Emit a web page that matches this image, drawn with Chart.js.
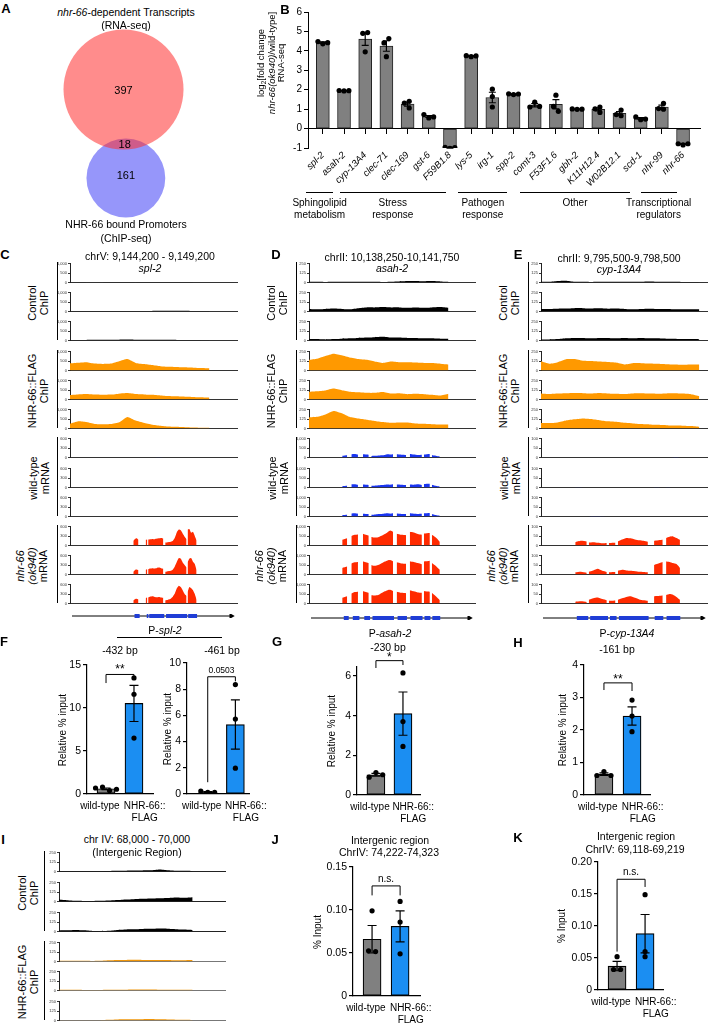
<!DOCTYPE html>
<html>
<head>
<meta charset="utf-8">
<title>NHR-66 figure</title>
<script src="https://cdn.jsdelivr.net/npm/chart.js@4.4.1/dist/chart.umd.min.js"></script>
<style>
  body { margin: 0; background: #fff; }
  #fig { position: relative; width: 708px; height: 1025px; overflow: hidden; background: #fff;
         font-family: "Liberation Sans", Arial, sans-serif; color: #000; }
  #fig canvas { position: absolute; }
  .t { position: absolute; white-space: nowrap; transform: translate(-50%, -50%); font-size: 10.5px; line-height: 12px; text-align: center; color: #000; }
  .v { transform: translate(-50%, -50%) rotate(-90deg); }
  .p { font-weight: bold; font-size: 13px; }
  .ln { position: absolute; background: #000; }
</style>
</head>
<body>
<div id="fig"></div>
<script>
// ---------- A: Venn ----------
const vennCounts = [397, 18, 161]; // RNA-seq only, both, ChIP-seq only

// ---------- B: RNA-seq fold change ----------
const genes = ['spl-2','asah-2','cyp-13A4','clec-71','clec-169','gst-6','F59B1.8','lys-5','irg-1','spp-2','comt-3','F53F1.6','gbh-2','K11H12.4','W02B12.1','scd-1','nhr-99','nhr-66'];
const bMean = [4.42, 1.95, 4.6, 4.25, 1.26, 0.62, -0.99, 3.73, 1.6, 1.77, 1.2, 1.25, 1.0, 0.99, 0.78, 0.52, 1.11, -0.8];
const bSem  = [0.04, 0.01, 0.32, 0.27, 0.1, 0.05, 0.02, 0.02, 0.27, 0.02, 0.08, 0.24, 0.01, 0.08, 0.09, 0.04, 0.1, 0.02];
const bRep1 = [4.36, 1.94, 4.94, 4.63, 1.4, 0.55, -1.02, 3.7, 2.03, 1.75, 1.36, 0.89, 0.99, 1.11, 0.95, 0.46, 1.0, -0.84];
const bRep2 = [4.48, 1.96, 3.95, 3.7, 1.06, 0.72, -0.97, 3.75, 1.11, 1.79, 1.11, 1.72, 1.01, 0.83, 0.72, 0.6, 1.3, -0.78];
const bRep3 = [4.42, 1.95, 4.9, 4.41, 1.31, 0.6, -0.98, 3.74, 1.65, 1.78, 1.14, 1.14, 1.0, 1.02, 0.66, 0.49, 1.03, -0.78];
const bTicks = [-1, 0, 1, 2, 3, 4, 5, 6];
const bGroups = [['Sphingolipid','metabolism'], ['Stress','response'], ['Pathogen','response'], ['Other'], ['Transcriptional','regulators']];
const bGroupSpans = [[-0.8, 0.5], [0.8, 5.8], [6.4, 8.7], [9.3, 14.5], [15, 16.7]];

// ---------- C: spl-2 tracks ----------
const cChipEnd = 83.5;
const cCtrl1 = [10,12,10,8,10,12,15,12,10,14,12,15,20,18,14,10,8,6];
const cCtrl2 = [25,30,25,30,25,30,30,35,30,30,35,40,45,50,45,35,30,25];
const cCtrl3 = [20,25,35,40,45,40,50,55,45,40,45,50,40,35,30,25,20,15];
const cNhr1 = [380,410,440,370,350,370,490,600,400,340,290,230,200,190,170,150,135,120];
const cNhr2 = [240,270,290,260,250,260,310,340,290,270,250,220,190,170,150,140,120,100];
const cNhr3 = [250,380,340,240,230,240,330,610,420,300,200,150,110,90,70,60,50,40];
const cExons = [[37.9,41],[45.3,46.3],[46.8,55.9],[57,69.8],[70.4,75.8]];
const cWt1 = [[0,0],[0,0],[0,0,0,10,12,6],[0,0,0],[0,0]];
const cWt2 = [[0,0],[0,0],[0,0,0,0,8,12],[4,0,0],[0,0]];
const cWt3 = [[0,0],[0,0],[0,0,0,0,0,0],[0,0,4,6,10,8],[6,0]];
const cMut1 = [[150,210,230,180],[180,190],[190,200,210,200,220,230,240,220],[100,100,110,120,150,250,420,500,480,380,280,200],[500,520,400,430,300,160]];
const cMut2 = [[90,160,140],[150,170],[170,190,200,190,210,220,200,180],[90,100,110,120,160,260,400,520,500,380,300,220],[380,500,520,400,330,140]];
const cMut3 = [[100,150,130],[170,190],[190,220,230,210,200,210,190,180],[100,110,130,160,220,320,480,560,520,420,300,240],[360,520,480,420,300,120]];

// ---------- D: asah-2 tracks ----------
const dChipEnd = 84;
const dCtrl1 = [10,10,8,10,12,10,10,12,10,8,12,15,20,22,18,20,15,10];
const dCtrl2 = [35,30,35,40,35,30,45,55,55,60,55,55,50,55,50,55,60,50];
const dCtrl3 = [20,20,15,20,25,30,35,40,45,50,40,40,35,35,30,30,25,25];
const dNhr1 = [140,155,190,220,200,170,150,140,120,100,118,108,108,105,100,98,90,80];
const dNhr2 = [103,110,120,143,123,103,95,88,88,99,79,82,71,75,71,63,52,75];
const dNhr3 = [145,153,185,230,200,150,130,115,100,85,75,78,80,66,62,56,52,55];
const dExons = [[20,23],[25.5,29.5],[32.5,36],[37.5,50.6],[52.8,58.5],[60.7,68],[69.2,72.8],[74,78.8]];
const dWt1 = [[90,120],[180,190,160],[170,150],[80,90,100,110,120,140,170,160,180],[170,150,140],[190,160,130,150],[160,190],[140,100,60]];
const dWt2 = [[70,90],[170,180,150],[160,140],[90,100,110,120,130,150,160,150,170],[160,150,130],[160,150,170,140],[190,200],[150,90,50]];
const dWt3 = [[80,100],[160,170,150],[150,130],[90,100,120,130,140,160,170,150,170],[160,140,130],[170,150,140,150],[170,190],[140,80,40]];
const dMut1 = [[300,380],[500,560,580],[620,520],[450,420,420,460,520,600,700,780,720],[620,560,540],[720,680,600,560],[630,660],[560,420,200]];
const dMut2 = [[350,420],[580,640,660],[680,600],[500,460,470,520,600,680,740,760,700],[640,580,560],[700,660,600,540],[680,720],[600,450,250]];
const dMut3 = [[300,380],[520,600,620],[640,560],[430,420,440,480,560,640,700,720,660],[620,560,540],[700,640,580,560],[660,620],[560,380,180]];

// ---------- E: cyp-13A4 tracks ----------
const eChipEnd = 94.8;
const eCtrl1 = [10,12,22,25,12,10,8,10,10,12,10,10,12,15,12,10,10,8,8,6];
const eCtrl2 = [35,35,38,40,45,45,40,42,38,40,35,30,35,38,35,35,32,30,30,30];
const eCtrl3 = [15,15,20,30,35,35,30,35,35,30,35,30,35,30,30,25,25,20,20,18];
const eNhr1 = [121,90,110,148,150,128,125,118,112,105,80,97,97,92,88,82,78,75,78,80];
const eNhr2 = [80,72,78,82,85,84,80,86,80,75,72,80,82,78,76,80,82,78,70,45];
const eNhr3 = [73,72,81,105,121,133,125,110,95,88,75,68,60,55,50,45,40,38,34,25];
const eExons = [[20.5,27.4],[28.6,39.4],[40.6,44.6],[46,64],[67.7,72.9],[74.9,83.2]];
const eWt1 = [[0,0],[0,0],[0,0],[0,0],[0,0],[0,0,2,3,0]];
const eWt2 = [[2,1],[0,0],[0,0],[0,0],[2,1],[2,1,0]];
const eWt3 = [[0,0],[2,3,0],[0,0],[0,0],[0,0],[0,0]];
const eMut1 = [[18,25,22],[16,18,15,12,14],[14,15],[22,32,40,38,32,28,25,20],[25,30],[40,46,48,40,30]];
const eMut2 = [[12,15,10],[15,22,30,20,14],[12,13],[20,25,22,20,18,15,14,12],[50,65],[68,66,60,55,35]];
const eMut3 = [[10,12,8],[20,28,32,24,18],[14,16],[20,28,35,38,30,22,18,15],[38,42],[45,50,46,35,20]];

// ---------- I: intergenic tracks ----------
const iChipEnd = 80.5;
const iCtrl1 = [5,5,5,5,5,6,8,10,12,14,15,16,28,18,12,10,8];
const iCtrl2 = [28,18,10,8,8,10,14,20,28,32,36,40,44,48,55,50,58];
const iCtrl3 = [14,16,20,16,8,6,10,22,28,30,34,36,40,38,32,26,20];
const iNhr1 = [12,12,12,10,8,10,16,20,22,24,22,20,20,22,18,18,20];
const iNhr2 = [10,10,10,8,8,8,10,12,12,14,15,14,12,12,12,12,12];
const iNhr3 = [4,4,4,4,4,6,10,14,16,16,18,20,16,14,12,10,8];

// ---------- F-K: ChIP-qPCR ----------
const qLabels = ['wild-type', ['NHR-66::', 'FLAG']];
const qLabelPos = [-0.22, 1.38];
const f432Wt = [0.4, 0.8, 0.55, 0.7], f432Nhr = [13.5, 11.6, 6.5], f432Mean = [0.61, 10.53], f432Sem = [0.09, 2.1];
const f461Wt = [0.12, 0.22, 0.12], f461Nhr = [8.35, 5.72, 1.97], f461Mean = [0.15, 5.3], f461Sem = [0.03, 1.88];
const gWt = [1.13, 0.9, 1.02], gNhr = [6.15, 3.7, 2.45], gMean = [1.02, 4.1], gSem = [0.07, 1.09];
const hWt = [0.72, 0.6, 0.6], hNhr = [2.92, 2.43, 1.95], hMean = [0.64, 2.43], hSem = [0.04, 0.28];
const jWt = [0.099, 0.0517, 0.0525], jNhr = [0.11, 0.086, 0.049], jMean = [0.066, 0.081], jSem = [0.016, 0.018];
const kWt = [0.052, 0.032, 0.032], kNhr = [0.149, 0.06, 0.052], kMean = [0.0374, 0.088], kSem = [0.0073, 0.03];

// ---------- setup ----------
Chart.defaults.font.family = '"Liberation Sans", Arial, sans-serif';
Chart.defaults.font.size = 10;
Chart.defaults.color = '#000';
Chart.defaults.animation = false;
Chart.defaults.responsive = false;
Chart.defaults.events = [];
Chart.defaults.plugins.legend.display = false;
Chart.defaults.plugins.tooltip.enabled = false;

const GRAY = '#808080', BLUE = '#1b8ef2';
const COL = { ctrl: '#000000', nhr: '#ff9900', wt: '#1a35f0', mut: '#ff2a00', exon: '#1f3dd6' };
const fig = document.getElementById('fig');

function addCanvas(x, y, w, h) {
  const c = document.createElement('canvas');
  c.width = w; c.height = h;
  c.style.left = x + 'px'; c.style.top = y + 'px';
  c.style.width = w + 'px'; c.style.height = h + 'px';
  fig.appendChild(c);
  return c;
}
function text(x, y, html, cls, style) {
  const d = document.createElement('div');
  d.className = 't ' + (cls || '');
  d.style.left = x + 'px'; d.style.top = y + 'px';
  d.innerHTML = html;
  if (style) d.style.cssText += style;
  fig.appendChild(d);
}
function rule(x, y, w, h) {
  const d = document.createElement('div');
  d.className = 'ln';
  d.style.left = x + 'px'; d.style.top = y + 'px';
  d.style.width = w + 'px'; d.style.height = h + 'px';
  fig.appendChild(d);
}

// spread replicate dots sideways when they would overlap
function swarmOffsets(vals, thresh, step) {
  const off = [];
  vals.forEach((v, i) => {
    for (const c of [0, -1, 1, -2, 2, -3, 3]) {
      if (!off.some((o, j) => o === c && Math.abs(vals[j] - v) < thresh)) { off[i] = c; break; }
    }
  });
  const seen = [];
  vals.forEach((v, i) => {
    if (seen[i]) return;
    const cl = [i]; seen[i] = true;
    for (let k = 0; k < cl.length; k++) {
      vals.forEach((w, j) => { if (!seen[j] && Math.abs(vals[cl[k]] - w) < thresh) { seen[j] = true; cl.push(j); } });
    }
    const m = cl.reduce((a, j) => a + off[j], 0) / cl.length;
    cl.forEach(j => { off[j] -= m; });
  });
  return off.map(o => o * step);
}

function errorBars(mean, sem, cap) {
  return {
    id: 'errorBars',
    afterDatasetDraw(chart, args) {
      if (args.index !== 0) return;
      const ctx = chart.ctx, y = chart.scales.y;
      ctx.save();
      ctx.strokeStyle = '#000'; ctx.lineWidth = 1.2;
      args.meta.data.forEach((bar, i) => {
        const hi = y.getPixelForValue(mean[i] + sem[i]);
        const lo = y.getPixelForValue(mean[i] - sem[i]);
        ctx.beginPath();
        ctx.moveTo(bar.x, hi); ctx.lineTo(bar.x, lo);
        ctx.moveTo(bar.x - cap, hi); ctx.lineTo(bar.x + cap, hi);
        ctx.moveTo(bar.x - cap, lo); ctx.lineTo(bar.x + cap, lo);
        ctx.stroke();
      });
      ctx.restore();
    }
  };
}

function bracketPlugin(b) {
  return {
    id: 'bracket',
    afterDraw(chart) {
      const ctx = chart.ctx, x = chart.scales.x, y = chart.scales.y;
      const x0 = x.getPixelForValue(0), x1 = x.getPixelForValue(1), yb = y.getPixelForValue(b.y);
      ctx.save();
      ctx.strokeStyle = '#000'; ctx.lineWidth = 1;
      ctx.beginPath();
      ctx.moveTo(x0, y.getPixelForValue(b.leftEnd)); ctx.lineTo(x0, yb);
      ctx.lineTo(x1, yb); ctx.lineTo(x1, y.getPixelForValue(b.rightEnd));
      ctx.stroke();
      ctx.restore();
    }
  };
}

// ---------- A ----------
(function () {
  const rRed = Math.sqrt(vennCounts[0] + vennCounts[1]);
  const rBlue = Math.sqrt(vennCounts[2] + vennCounts[1]);
  const red = { x: 0, y: 0, size: rRed };
  const blue = { x: 0.8, y: -(rRed + rBlue - 3.7), size: rBlue };
  const radius = ctx => {
    if (!ctx.raw) return 0;
    const sx = ctx.chart.scales.x;
    return sx.getPixelForValue(ctx.raw.size) - sx.getPixelForValue(0);
  };
  const cx = 0, cy = 20;
  const chart = new Chart(addCanvas(cx, cy, 250, 210), {
    type: 'scatter',
    data: { datasets: [
      { data: [red], backgroundColor: 'rgba(255,46,46,0.55)', borderWidth: 0, pointRadius: radius, pointHoverRadius: radius },
      { data: [blue], backgroundColor: 'rgb(150,150,250)', borderWidth: 0, pointRadius: radius, pointHoverRadius: radius }
    ] },
    options: {
      layout: { padding: 0 },
      clip: false,
      scales: {
        x: { display: false, min: -41.94, max: 42.95 },
        y: { display: false, min: -47.7, max: 23.6 }
      }
    }
  });
  const sx = chart.scales.x, sy = chart.scales.y;
  const at = (x, y, s) => text(cx + sx.getPixelForValue(x), cy + sy.getPixelForValue(y), s, '', 'font-size:11px');
  at(red.x, red.y, vennCounts[0]);
  at((red.x + blue.x) / 2, ((blue.y + rBlue) + (red.y - rRed)) / 2, vennCounts[1]);
  at(blue.x, blue.y + 1, vennCounts[2]);
})();
text(6, 9, 'A', 'p');
text(126, 12, '<i>nhr-66</i>-dependent Transcripts');
text(126, 25, '(RNA-seq)');
text(126, 224, 'NHR-66 bound Promoters');
text(126, 238, '(ChIP-seq)');

// ---------- B ----------
(function () {
  const bDots = [];
  genes.forEach((g, i) => {
    const vals = [bRep1[i], bRep2[i], bRep3[i]];
    const off = swarmOffsets(vals, 0.28, 0.23);
    vals.forEach((v, k) => bDots.push({ x: i + off[k], y: v }));
  });
  const left = 230, top = 0;
  const chart = new Chart(addCanvas(left, top, 478, 225), {
    type: 'scatter',
    data: { datasets: [
      { type: 'bar', data: genes.map((g, i) => ({ x: i, y: bMean[i] })), backgroundColor: GRAY, borderColor: '#222', borderWidth: 1, borderSkipped: false, barThickness: 13, order: 2 },
      { type: 'scatter', data: bDots, pointRadius: 2.6, backgroundColor: '#000', borderWidth: 0, order: 1 }
    ] },
    options: {
      layout: { padding: { top: 12, right: 8, bottom: 77, left: 0 } },
      scales: {
        x: { type: 'linear', axis: 'x', position: { y: 0 }, offset: false, min: -0.7, max: genes.length - 0.2,
             afterBuildTicks: s => { s.ticks = genes.map((g, i) => ({ value: i })); },
             ticks: { autoSkip: false, minRotation: 45, maxRotation: 45, padding: 16, font: { size: 9.5, style: 'italic' }, callback: v => genes[v] },
             grid: { drawOnChartArea: false, offset: false, tickLength: 5, color: '#000' }, border: { color: '#000', width: 1 } },
        y: { min: -1, max: 6, afterBuildTicks: s => { s.ticks = bTicks.map(v => ({ value: v })); },
             ticks: { autoSkip: false, padding: 2, font: { size: 10 } },
             grid: { drawOnChartArea: false, tickLength: 4, color: '#000' }, border: { color: '#000', width: 1 },
             afterFit: s => { s.width = 78; } }
      }
    },
    plugins: [errorBars(bMean, bSem, 3.5)]
  });
  const sx = chart.scales.x, base = top + chart.chartArea.bottom;
  bGroups.forEach((name, g) => {
    const x0 = left + sx.getPixelForValue(bGroupSpans[g][0]);
    const x1 = left + sx.getPixelForValue(bGroupSpans[g][1]);
    rule(x0, base + 44, x1 - x0, 1);
    name.forEach((line, k) => text((x0 + x1) / 2, base + 55 + k * 12, line, '', 'font-size:10px'));
  });
})();
text(285, 10, 'B', 'p');
text(271, 63, '<div>log<span style="font-size:6.5px;position:relative;top:2px">2</span>[fold change</div><div><i>nhr-66(ok940)</i>/wild-type]</div><div>RNA-seq</div>', 'v', 'font-size:9.5px;line-height:9.5px');

// ---------- genome browser tracks ----------
const TRACK_H = 21;
const trackBases = [284, 313, 342, 372, 401, 430, 459, 489, 518, 547, 576, 605];
const iBases = [873, 903, 933, 963, 992, 1022];

function chipPoints(vals, end) {
  return vals.map((y, i) => ({ x: end * i / (vals.length - 1), y }));
}
function covPoints(exons, cov) {
  const pts = [];
  exons.forEach(([s, e], j) => {
    const v = cov[j], n = v.length;
    v.forEach((y, k) => pts.push({ x: s + (e - s) * k / (n - 1), y }));
    pts.push({ x: e, y: null });
  });
  return pts;
}
function track(axisX, right, base, pts, color, ticks, baseColor) {
  const yW = 12, padT = 3, padB = 2;
  const c = addCanvas(axisX - yW, base - TRACK_H - padT, right - axisX + yW + 1, TRACK_H + padT + padB);
  return new Chart(c, {
    type: 'line',
    data: { datasets: [{ data: pts, borderWidth: 0, borderColor: color, backgroundColor: color, pointRadius: 0, fill: 'origin', tension: 0.15, spanGaps: false }] },
    options: {
      layout: { padding: { top: padT, bottom: padB, right: 1, left: 0 } },
      scales: {
        x: { type: 'linear', min: 0, max: 100, ticks: { display: false }, grid: { display: false },
             border: { color: baseColor || '#333', width: 1 }, afterFit: s => { s.height = 0; } },
        y: { min: 0, max: ticks[ticks.length - 1], afterBuildTicks: s => { s.ticks = ticks.map(v => ({ value: v })); },
             ticks: { font: { size: 4 }, padding: 1, color: '#333', autoSkip: false },
             grid: { drawOnChartArea: false, tickLength: 2, color: '#333' }, border: { color: '#222', width: 1 },
             afterFit: s => { s.width = yW; } }
      }
    }
  });
}
function geneModel(axisX, right, y, exons) {
  const h = 12;
  const c = addCanvas(axisX - 2, y - h / 2, right - axisX + 6, h);
  const exonPts = [];
  exons.forEach(([s, e]) => { exonPts.push({ x: s, y: 0 }, { x: e, y: 0 }, { x: e, y: null }); });
  new Chart(c, {
    type: 'line',
    data: { datasets: [
      { data: exonPts, borderColor: COL.exon, borderWidth: 7, borderCapStyle: 'butt', pointRadius: 0, spanGaps: false, order: 0 },
      { data: [{ x: 0, y: 0 }, { x: 96.5, y: 0 }], borderColor: '#000', borderWidth: 1, pointRadius: [0, 3.5],
        pointStyle: 'triangle', rotation: 90, pointBackgroundColor: '#000', pointBorderWidth: 0, order: 1 }
    ] },
    options: {
      layout: { padding: { left: 2, right: 4, top: 0, bottom: 0 } },
      scales: { x: { type: 'linear', min: 0, max: 100, display: false }, y: { min: -1, max: 1, display: false } }
    }
  });
}
function trackLabels(axisX, bases, groups, brOff) {
  groups.forEach(g => {
    const y0 = bases[g.i0] - TRACK_H - 1, y1 = bases[g.i1] - 2;
    rule(axisX - brOff, y0, 1.2, y1 - y0);
    text(axisX + (g.dx || -32), (bases[g.i0] - TRACK_H + bases[g.i1]) / 2, g.html, 'v', 'font-size:11px;line-height:11.5px');
  });
}
const stdGroups = [
  { html: 'Control<br>ChIP', i0: 0, i1: 2 },
  { html: 'NHR-66::FLAG<br>ChIP', i0: 3, i1: 5 },
  { html: 'wild-type<br>mRNA', i0: 6, i1: 8, dx: -31 },
  { html: '<i>nhr-66<br>(ok940)</i><br>mRNA', i0: 9, i1: 11, dx: -38 }
];

function genePanel(p) {
  const chip = [p.ctrl[0], p.ctrl[1], p.ctrl[2], p.nhr[0], p.nhr[1], p.nhr[2]];
  chip.forEach((vals, i) => track(p.axisX, p.right, trackBases[i], chipPoints(vals, p.chipEnd), i < 3 ? COL.ctrl : COL.nhr, p.chipTicks));
  p.wt.forEach((cov, i) => track(p.axisX, p.right, trackBases[6 + i], covPoints(p.exons, cov), COL.wt, p.wtTicks));
  p.mut.forEach((cov, i) => track(p.axisX, p.right, trackBases[9 + i], covPoints(p.exons, cov), COL.mut, p.mutTicks));
  geneModel(p.axisX, p.right, p.geneY, p.exons);
  trackLabels(p.axisX, trackBases, stdGroups, 13);
}

genePanel({ axisX: 70, right: 237, chipEnd: cChipEnd, ctrl: [cCtrl1, cCtrl2, cCtrl3], nhr: [cNhr1, cNhr2, cNhr3],
  chipTicks: [0, 500, 1000], exons: cExons, wt: [cWt1, cWt2, cWt3], mut: [cMut1, cMut2, cMut3],
  wtTicks: [0, 300, 600], mutTicks: [0, 300, 600], geneY: 616 });
genePanel({ axisX: 309, right: 475, chipEnd: dChipEnd, ctrl: [dCtrl1, dCtrl2, dCtrl3], nhr: [dNhr1, dNhr2, dNhr3],
  chipTicks: [0, 125, 250], exons: dExons, wt: [dWt1, dWt2, dWt3], mut: [dMut1, dMut2, dMut3],
  wtTicks: [0, 500, 1000], mutTicks: [0, 500, 1000], geneY: 618 });
genePanel({ axisX: 541, right: 708, chipEnd: eChipEnd, ctrl: [eCtrl1, eCtrl2, eCtrl3], nhr: [eNhr1, eNhr2, eNhr3],
  chipTicks: [0, 125, 250], exons: eExons, wt: [eWt1, eWt2, eWt3], mut: [eMut1, eMut2, eMut3],
  wtTicks: [0, 50, 100], mutTicks: [0, 50, 100], geneY: 618 });

text(5, 255, 'C', 'p');
text(150, 256, 'chrV: 9,144,200 - 9,149,200');
text(150, 268, '<i>spl-2</i>');
text(276, 255, 'D', 'p');
text(392, 257, 'chrII: 10,138,250-10,141,750');
text(392, 268, '<i>asah-2</i>');
text(518, 255, 'E', 'p');
text(619, 258, 'chrII: 9,795,500-9,798,500');
text(619, 269, '<i>cyp-13A4</i>');

// I: intergenic ChIP tracks
[iCtrl1, iCtrl2, iCtrl3, iNhr1, iNhr2, iNhr3].forEach((vals, i) =>
  track(59, 225, iBases[i], chipPoints(vals, iChipEnd), i < 3 ? COL.ctrl : '#f0960a', [0, 125, 250], i < 3 ? '#222' : '#777'));
trackLabels(59, iBases, [{ html: 'Control<br>ChIP', i0: 0, i1: 2, dx: -31 }, { html: 'NHR-66::FLAG<br>ChIP', i0: 3, i1: 5, dx: -31 }], 15);
text(3, 840, 'I', 'p');
text(137, 839, 'chr IV: 68,000 - 70,000');
text(137, 852, '(Intergenic Region)');

// ---------- F-K: ChIP-qPCR bars ----------
function qpcr(q) {
  const yW = 30, padT = 34, padR = 24, xH = 29;
  const left = q.axisX - yW, top = q.top - padT;
  const c = addCanvas(left, top, q.right - q.axisX + yW + padR, q.bottom - q.top + padT + xH);
  const thr = 0.04 * q.yMax;
  const dots = [];
  [q.wt, q.nhr].forEach((vals, g) => {
    const off = swarmOffsets(vals, thr, 0.25);
    vals.forEach((v, k) => dots.push({ x: g + off[k], y: v }));
  });
  const chart = new Chart(c, {
    type: 'scatter',
    data: { datasets: [
      { type: 'bar', data: q.mean.map((m, i) => ({ x: i, y: m })), backgroundColor: [GRAY, BLUE], borderColor: '#000', borderWidth: 1.2, borderSkipped: false, barThickness: 18, order: 2 },
      { type: 'scatter', data: dots, pointRadius: 2.6, backgroundColor: '#000', borderWidth: 0, order: 1 }
    ] },
    options: {
      layout: { padding: { top: padT, right: padR, left: 0, bottom: 0 } },
      scales: {
        x: { type: 'linear', offset: false, min: q.xMin, max: q.xMax, afterBuildTicks: s => { s.ticks = qLabelPos.map(v => ({ value: v })); },
             ticks: { autoSkip: false, minRotation: 0, maxRotation: 0, padding: 6, font: { size: 10 }, callback: (v, i) => qLabels[i] },
             grid: { display: false, drawTicks: false, tickLength: 0 }, border: { color: '#000', width: 1.2 }, afterFit: s => { s.height = xH; } },
        y: { min: 0, max: q.yMax, afterBuildTicks: s => { s.ticks = q.ticks.map(v => ({ value: v })); },
             ticks: { autoSkip: false, padding: 2, font: { size: 10.5 }, callback: q.fmt || (v => v) },
             grid: { drawOnChartArea: false, tickLength: 4, color: '#000', lineWidth: 1.2 }, border: { color: '#000', width: 1.2 },
             afterFit: s => { s.width = yW; } }
      }
    },
    plugins: [errorBars(q.mean, q.sem, 4.5), bracketPlugin(q.bracket)]
  });
  const sx = chart.scales.x, sy = chart.scales.y;
  const mid = left + (sx.getPixelForValue(0) + sx.getPixelForValue(1)) / 2;
  text(mid, top + sy.getPixelForValue(q.bracket.y) - q.bracket.lift, q.bracket.text, '', q.bracket.style);
  text(q.titleX, (q.top + q.bottom) / 2, q.title, 'v', 'font-size:10px');
}
const fmt2 = v => (v === 0 ? '0' : v.toFixed(2));

qpcr({ axisX: 87, right: 153, top: 665, bottom: 794, yMax: 15, ticks: [0, 5, 10, 15], xMin: -0.68, xMax: 1.68,
  wt: f432Wt, nhr: f432Nhr, mean: f432Mean, sem: f432Sem, title: 'Relative % input', titleX: 63,
  bracket: { y: 13.9, leftEnd: 12.9, rightEnd: 13.7, text: '**', lift: 5, style: 'font-size:12px' } });
qpcr({ axisX: 187, right: 250, top: 663, bottom: 794, yMax: 10, ticks: [0, 2, 4, 6, 8, 10], xMin: -0.75, xMax: 1.5,
  wt: f461Wt, nhr: f461Nhr, mean: f461Mean, sem: f461Sem, title: 'Relative % input', titleX: 168,
  bracket: { y: 8.95, leftEnd: 0.9, rightEnd: 8.6, text: '0.0503', lift: 7, style: 'font-size:8.5px' } });
qpcr({ axisX: 357, right: 420, top: 667, bottom: 795, yMax: 6.45, ticks: [0, 2, 4, 6], xMin: -0.7, xMax: 1.63,
  wt: gWt, nhr: gNhr, mean: gMean, sem: gSem, title: 'Relative % input', titleX: 332,
  bracket: { y: 6.77, leftEnd: 6.4, rightEnd: 6.55, text: '*', lift: 4, style: 'font-size:12px' } });
qpcr({ axisX: 584, right: 650, top: 665, bottom: 795, yMax: 4, ticks: [0, 1, 2, 3, 4], xMin: -0.71, xMax: 1.64,
  wt: hWt, nhr: hNhr, mean: hMean, sem: hSem, title: 'Relative % input', titleX: 563,
  bracket: { y: 3.45, leftEnd: 3.23, rightEnd: 3.2, text: '**', lift: 4, style: 'font-size:12px' } });
qpcr({ axisX: 353, right: 420, top: 867, bottom: 996, yMax: 0.15, ticks: [0, 0.05, 0.1, 0.15], xMin: -0.68, xMax: 1.71, fmt: fmt2,
  wt: jWt, nhr: jNhr, mean: jMean, sem: jSem, title: '% Input', titleX: 318,
  bracket: { y: 0.128, leftEnd: 0.117, rightEnd: 0.117, text: 'n.s.', lift: 7, style: 'font-size:10px' } });
qpcr({ axisX: 598, right: 663, top: 862, bottom: 990, yMax: 0.2, ticks: [0, 0.05, 0.1, 0.15, 0.2], xMin: -0.68, xMax: 1.64, fmt: fmt2,
  wt: kWt, nhr: kNhr, mean: kMean, sem: kSem, title: '% Input', titleX: 562,
  bracket: { y: 0.173, leftEnd: 0.06, rightEnd: 0.161, text: 'n.s.', lift: 7, style: 'font-size:10px' } });

text(4, 642, 'F', 'p');
text(165, 630, 'P-<i>spl-2</i>');
rule(117, 637, 105, 1);
text(120, 650, '-432 bp');
text(222, 650, '-461 bp');
text(277, 642, 'G', 'p');
text(390, 633, 'P-<i>asah-2</i>');
text(388, 647, '-230 bp');
text(518, 643, 'H', 'p');
text(627, 633, 'P-<i>cyp-13A4</i>');
text(617, 649, '-161 bp');
text(275, 840, 'J', 'p');
text(390, 840, 'Intergenic region');
text(389, 852, 'ChrIV: 74,222-74,323');
text(518, 838, 'K', 'p');
text(636, 836, 'Intergenic region');
text(635, 849, 'ChrIV: 69,118-69,219');
</script>
</body>
</html>
